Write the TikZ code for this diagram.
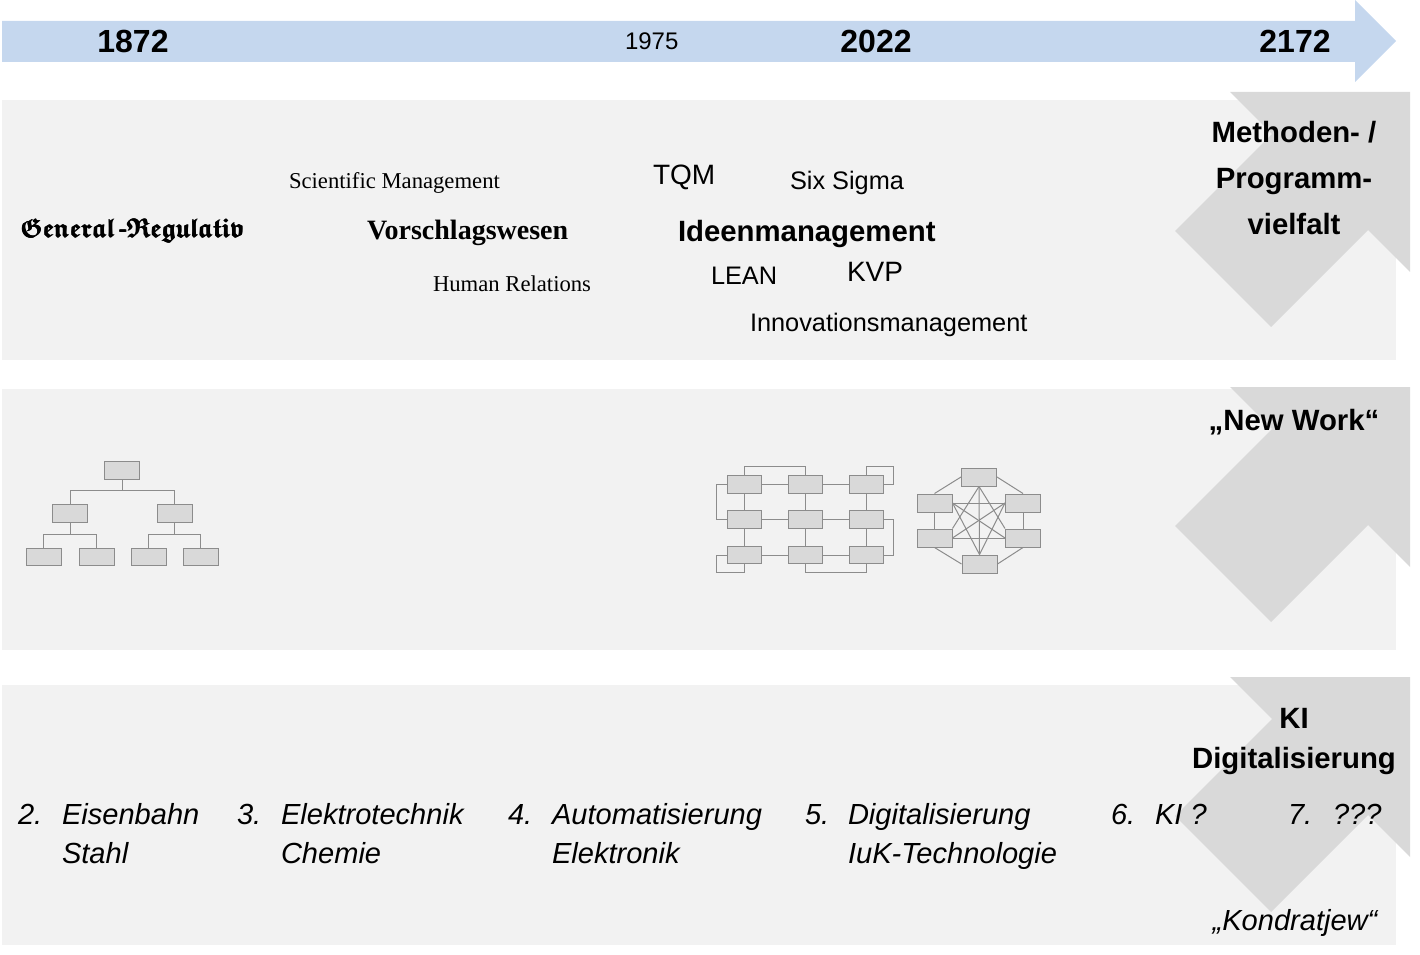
\documentclass[tikz,border=0pt]{standalone}
\usepackage{amssymb}
\usepackage{fontspec}
\setmainfont{Liberation Serif}
\setsansfont{Liberation Sans}
\usepackage{graphicx}
\definecolor{timeblue}{HTML}{C5D7EE}
\definecolor{panelgray}{HTML}{F2F2F2}
\definecolor{chevgray}{HTML}{D9D9D9}
\definecolor{boxfill}{HTML}{D9D9D9}
\definecolor{boxline}{HTML}{8C8C8C}
\definecolor{connline}{HTML}{8C8C8C}
\newcommand\fsz[1]{\fontsize{#1pt}{#1pt}\selectfont}
\newcommand\frakword{\boldmath$\mathfrak{General}$\,\textbf{-}$\mathfrak{Regulativ}$}
\newcommand\heavyfrak{\rlap{\frakword}\kern0.45pt\rlap{\frakword}\kern0.45pt\frakword}
\newcommand\chevronshape[1]{%
  \fill[chevgray] (1410,#1) -- (1230,#1) -- (1272,#1+42) -- (1175,#1+139)
    -- (1271,#1+235) -- (1368,#1+138) -- (1410,#1+180) -- cycle;}
\begin{document}
\begin{tikzpicture}[x=0.75pt,y=-0.75pt,
  txt/.style={inner sep=0pt, outer sep=0pt},
  yearbold/.style={txt, anchor=base, font={\sffamily\bfseries\fsz{24}}},
  yearthin/.style={txt, anchor=base west, font={\sffamily\fsz{18}}},
  serifm/.style={txt, anchor=base west, font={\rmfamily\fsz{17}}},
  serifb/.style={txt, anchor=base west, font={\rmfamily\bfseries\fsz{21}}},
  sansm/.style={txt, anchor=base west, font={\sffamily\fsz{#1}}},
  sansb/.style={txt, anchor=base west, font={\sffamily\bfseries\fsz{22}}},
  headb/.style={txt, anchor=base, font={\sffamily\bfseries\fsz{22}}},
  itemi/.style={txt, anchor=base west, font={\sffamily\itshape\fsz{21.8}}},
  orgbox/.style={draw=boxline, fill=boxfill, line width=0.75pt, inner sep=0pt,
    minimum width=26.25pt, minimum height=13pt},
  netbox/.style={draw=boxline, fill=boxfill, line width=0.75pt, inner sep=0pt,
    minimum width=25.5pt, minimum height=13pt},
  conn/.style={draw=connline, line width=0.75pt}
]
\useasboundingbox (0,0) rectangle (1420,955);

% timeline arrow
\fill[timeblue] (2,21) -- (1355,21) -- (1355,0) -- (1396,41) -- (1355,82)
  -- (1355,62) -- (2,62) -- cycle;
\node[yearbold] (y1872) at (133,53) {1872};
\node[yearthin] (y1975) at (625,50) {1975};
\node[yearbold] (y2022) at (876,53) {2022};
\node[yearbold] (y2172) at (1295,53) {2172};

% panels
\fill[panelgray] (2,100) rectangle (1396,360);
\fill[panelgray] (2,389) rectangle (1396,650);
\fill[panelgray] (2,685) rectangle (1396,945);

% chevrons
\chevronshape{92}
\chevronshape{387}
\chevronshape{677}

% panel 1 texts
\node[txt, anchor=base west] (genreg) at (20,238)
  {\resizebox{168.75pt}{14pt}{\fsz{22}\heavyfrak}};
\node[serifm] (sciman) at (289,189) {Scientific Management};
\node[serifb] (vorsch) at (367,240) {Vorschlagswesen};
\node[serifm] (humrel) at (433,292) {Human Relations};
\node[sansm=21] (tqm) at (653,185) {TQM};
\node[sansm=19] (sixsig) at (790,190) {Six Sigma};
\node[sansb] (ideen) at (678,242) {Ideenmanagement};
\node[sansm=19] (lean) at (711,285) {LEAN};
\node[sansm=21] (kvp) at (847,282) {KVP};
\node[sansm=19] (innov) at (750,332) {Innovationsmanagement};
\node[headb] (meth1) at (1294,143) {Methoden- /};
\node[headb] (meth2) at (1294,189) {Programm-};
\node[headb] (meth3) at (1294,235) {vielfalt};

% panel 2: hierarchy
\node[orgbox] (o0) at (122,470.5) {};
\node[orgbox] (o1) at (70,513.5) {};
\node[orgbox] (o2) at (174.5,513.5) {};
\node[orgbox] (o3) at (43.5,557) {};
\node[orgbox] (o4) at (96.5,557) {};
\node[orgbox] (o5) at (148.5,557) {};
\node[orgbox] (o6) at (200.5,557) {};
\coordinate (j0) at (122,490);
\coordinate (j1) at (70,534);
\coordinate (j2) at (174.5,534);
\draw[conn] (o0.south) -- (j0);
\draw[conn] (o1.north) -- (o1.north |- j0) -- (o2.north |- j0) -- (o2.north);
\draw[conn] (o1.south) -- (j1);
\draw[conn] (o3.north) -- (o3.north |- j1) -- (o4.north |- j1) -- (o4.north);
\draw[conn] (o2.south) -- (j2);
\draw[conn] (o5.north) -- (o5.north |- j2) -- (o6.north |- j2) -- (o6.north);

% panel 2: matrix network
\foreach \c/\x in {1/744,2/805,3/866}{
  \foreach \r/\y in {1/484.5,2/519.5,3/555}{
    \node[netbox] (g\r\c) at (\x,\y) {};
  }
}
\foreach \r in {1,2,3}{
  \draw[conn] (g\r1.east) -- (g\r2.west);
  \draw[conn] (g\r2.east) -- (g\r3.west);
}
\foreach \c in {1,2,3}{
  \draw[conn] (g1\c.south) -- (g2\c.north);
  \draw[conn] (g2\c.south) -- (g3\c.north);
}
\draw[conn] (g11.north) -- ++(0,-9) -| (g12.north);
\draw[conn] (g13.north) -- ++(0,-9) -- ++(27,0) |- (g13.east);
\draw[conn] (g11.west) -- ++(-10,0) |- (g21.west);
\draw[conn] (g23.east) -- ++(10,0) |- (g33.east);
\draw[conn] (g31.west) -- ++(-10,0) -- ++(0,17) -| (g31.south);
\draw[conn] (g32.south) -- ++(0,8.5) -| (g33.south);

% panel 2: full network
\node[netbox, minimum width=26.25pt, minimum height=13.5pt] (h0) at (979,477) {};
\node[netbox, minimum width=26.25pt, minimum height=13.5pt] (h1) at (934.5,503) {};
\node[netbox, minimum width=26.25pt, minimum height=13.5pt] (h2) at (1023,503) {};
\node[netbox, minimum width=26.25pt, minimum height=13.5pt] (h3) at (934.5,538) {};
\node[netbox, minimum width=26.25pt, minimum height=13.5pt] (h4) at (1023,538) {};
\node[netbox, minimum width=26.25pt, minimum height=13.5pt] (h5) at (979.5,564) {};
\draw[conn] (h0.west) -- (h1.north);
\draw[conn] (h0.east) -- (h2.north);
\draw[conn] (h1.south) -- (h3.north);
\draw[conn] (h2.south) -- (h4.north);
\draw[conn] (h3.south) -- (h5.west);
\draw[conn] (h4.south) -- (h5.east);
\draw[conn] (h0.south) -- (h5.north);
\draw[conn] (h0.south) -- (h3.north east);
\draw[conn] (h0.south) -- (h4.north west);
\draw[conn] (h1.east) -- (h2.west);
\draw[conn] (h3.east) -- (h4.west);
\draw[conn] (h1.east) -- (h4.west);
\draw[conn] (h2.west) -- (h3.east);
\draw[conn] (h1.east) -- (h5.north);
\draw[conn] (h2.west) -- (h5.north);

\node[headb] (newwork) at (1294,430) {„New Work“};

% panel 3
\node[headb] (ki) at (1294,728) {KI};
\node[headb] (digi) at (1294,768) {Digitalisierung};
\node[itemi] (n2) at (18,824) {2.};
\node[itemi] (t2a) at (62,824) {Eisenbahn};
\node[itemi] (t2b) at (62,863) {Stahl};
\node[itemi] (n3) at (237,824) {3.};
\node[itemi] (t3a) at (281,824) {Elektrotechnik};
\node[itemi] (t3b) at (281,863) {Chemie};
\node[itemi] (n4) at (508,824) {4.};
\node[itemi] (t4a) at (552,824) {Automatisierung};
\node[itemi] (t4b) at (552,863) {Elektronik};
\node[itemi] (n5) at (805,824) {5.};
\node[itemi] (t5a) at (848,824) {Digitalisierung};
\node[itemi] (t5b) at (848,863) {IuK-Technologie};
\node[itemi] (n6) at (1111,824) {6.};
\node[itemi] (t6a) at (1155,824) {KI ?};
\node[itemi] (n7) at (1288,824) {7.};
\node[itemi] (t7a) at (1333,824) {???};
\node[txt, anchor=base, font={\sffamily\itshape\fsz{21.8}}] (kondr) at (1295,930) {„Kondratjew“};
\end{tikzpicture}
\end{document}
